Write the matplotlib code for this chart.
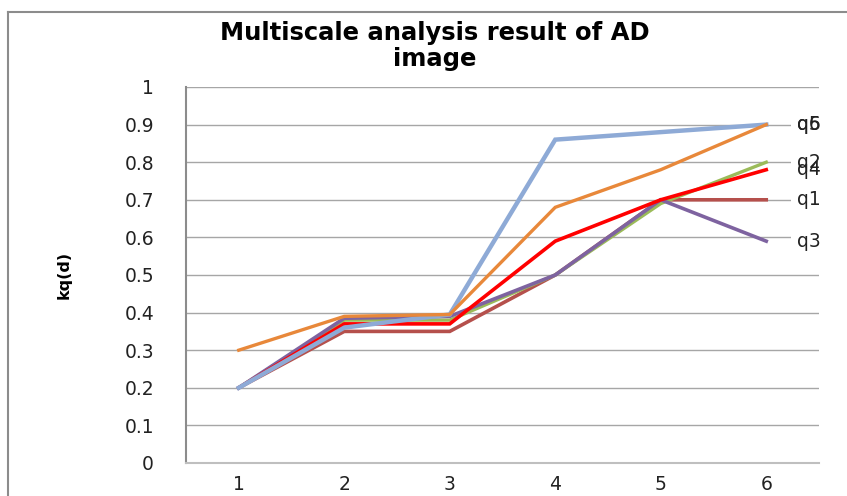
import matplotlib
matplotlib.use("Agg")
import matplotlib.pyplot as plt
from matplotlib.lines import Line2D

x_vals = [1, 2, 3, 4, 5, 6]
series_names = ["q1", "q2", "q3", "q4", "q5", "q6"]
q1 = [0.20, 0.35, 0.35, 0.50, 0.70, 0.70]
q2 = [0.20, 0.38, 0.38, 0.50, 0.69, 0.80]
q3 = [0.20, 0.385, 0.39, 0.50, 0.70, 0.59]
q4 = [0.20, 0.37, 0.37, 0.59, 0.70, 0.78]
q5 = [0.20, 0.36, 0.395, 0.86, 0.88, 0.90]
q6 = [0.30, 0.39, 0.395, 0.68, 0.78, 0.90]
colors = ["#B5504C", "#9BBB59", "#7E63A0", "#FF0000", "#8EAAD6", "#E8883A"]
widths = [2.6, 2.4, 2.6, 2.6, 3.2, 2.4]
yticks = [0, 0.1, 0.2, 0.3, 0.4, 0.5, 0.6, 0.7, 0.8, 0.9, 1]
ytick_labels = ["0", "0.1", "0.2", "0.3", "0.4", "0.5", "0.6", "0.7", "0.8", "0.9", "1"]
title = "Multiscale analysis result of AD\nimage"
ylabel = "kq(d)"

W, H = 847, 496
fig = plt.figure(figsize=(W / 100, H / 100), dpi=100)
fig.patch.set_facecolor("white")

# outer chart frame (left and top edges visible)
fig.lines.append(Line2D([8 / W, 8 / W], [0, 1 - 12 / H], transform=fig.transFigure,
                        color="#8C8C8C", linewidth=1.5))
fig.lines.append(Line2D([8 / W, 1], [1 - 12 / H, 1 - 12 / H], transform=fig.transFigure,
                        color="#8C8C8C", linewidth=1.5))

ax = fig.add_axes([186 / W, 1 - 463 / H, (819 - 186) / W, (463 - 87) / H])
data = [q1, q2, q3, q4, q5, q6]
for name, vals, c, lw in zip(series_names, data, colors, widths):
    ax.plot(x_vals, vals, color=c, linewidth=lw, solid_joinstyle="miter", zorder=3)

ax.set_xlim(0.5, 6.5)
ax.set_ylim(0, 1)
ax.set_yticks(yticks)
ax.set_yticklabels(ytick_labels)
ax.set_xticks(x_vals)
ax.set_xticklabels([str(v) for v in x_vals])
ax.grid(axis="y", color="#A6A6A6", linewidth=1.0, zorder=0)
ax.set_axisbelow(True)
for s in ["top", "right"]:
    ax.spines[s].set_visible(False)
ax.spines["left"].set_color("#8C8C8C")
ax.spines["left"].set_linewidth(1.5)
ax.spines["bottom"].set_color("#BFBFBF")
ax.spines["bottom"].set_linewidth(1.5)
ax.tick_params(axis="y", length=0, pad=23, labelsize=13.5, labelcolor="#222222")
ax.tick_params(axis="x", length=0, pad=9, labelsize=13.5, labelcolor="#222222")

ax.set_ylabel(ylabel, fontsize=11.5, fontweight="bold")
ax.yaxis.set_label_coords((72 - 186) / (819 - 186), 0.5)

# white background behind the end labels (gridlines interrupted)
for vals in data:
    ax.axhspan(vals[-1] - 0.018, vals[-1] + 0.018, xmin=0.955, xmax=1.0,
               color="white", zorder=4, linewidth=0)

# end labels
for name, vals in zip(series_names, data):
    ax.annotate(name, xy=(x_vals[-1], vals[-1]), xytext=(22, 0),
                textcoords="offset points", va="center", ha="left",
                fontsize=13.5, color="#222222",
                zorder=5, annotation_clip=False)

fig.text(435 / W, 1 - 46 / H, title, ha="center", va="center",
         fontsize=17.5, fontweight="bold", linespacing=1.15)

fig.savefig("out.png", dpi=100)
